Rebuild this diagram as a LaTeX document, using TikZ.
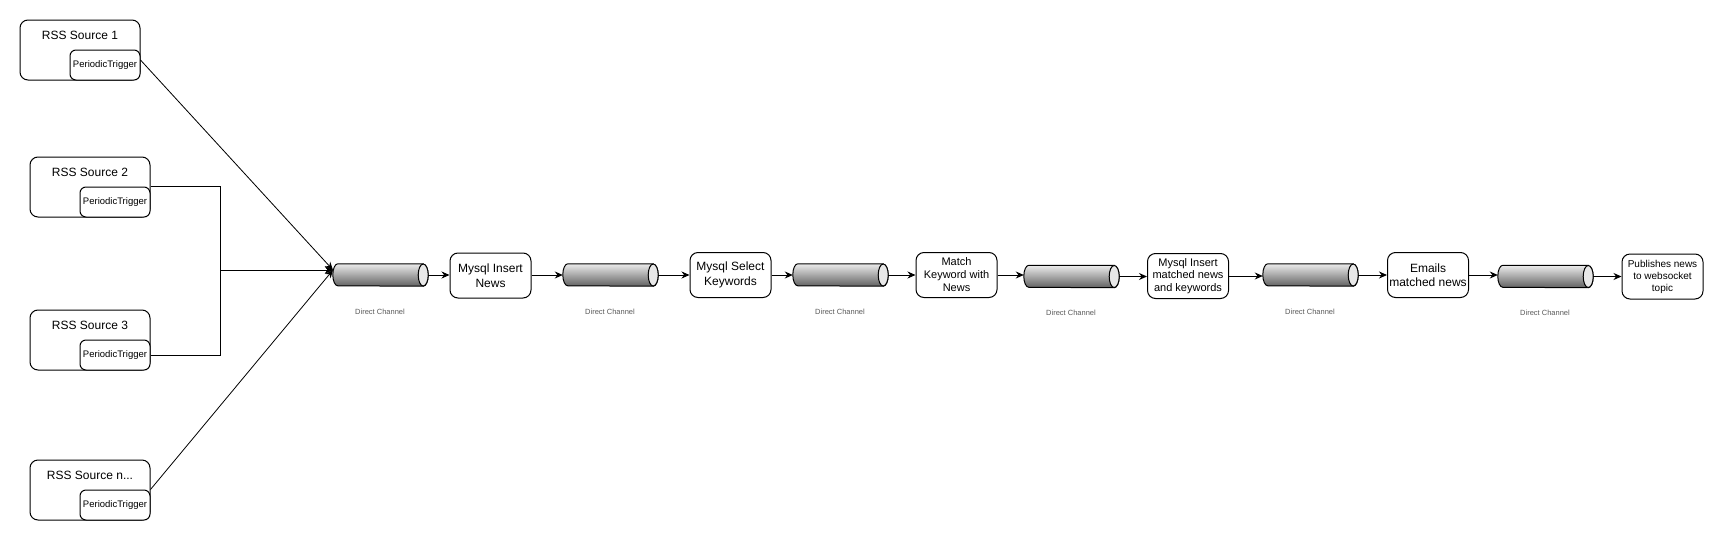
\documentclass[tikz,border=0pt]{standalone}
\usepackage{fontspec}
\setmainfont{Liberation Sans}
\usetikzlibrary{arrows.meta,calc}
\newcommand\drawchan[1]{%
  \shade[top color=gray!15,bottom color=black!62,draw,line width=1pt]
    ($(#1.north east)+(-5,0)$) -- ($(#1.north west)+(5,0)$)
    arc[start angle=90,end angle=270,x radius=5pt,y radius=11pt]
    -- ($(#1.south east)+(-5,0)$)
    arc[start angle=-90,end angle=90,x radius=5pt,y radius=11pt] -- cycle;
  \draw[fill=gray!18,line width=1pt] ($(#1.east)+(-5,0)$) ellipse[x radius=5pt,y radius=11pt];
}
\begin{document}
\begin{tikzpicture}[x=1pt,y=-1pt,
  outer/.style={draw,rounded corners=8pt,minimum width=120pt,minimum height=60pt,inner sep=0pt,line width=1pt},
  trig/.style={draw,fill=white,rounded corners=6pt,minimum width=70pt,minimum height=30pt,inner sep=0pt,line width=1pt,font=\fontsize{9.5}{10}\selectfont},
  title/.style={font=\fontsize{12}{14}\selectfont,inner sep=0pt},
  proc/.style={draw,rounded corners=8pt,minimum width=81pt,minimum height=45pt,inner sep=0pt,align=center,line width=1pt},
  chan/.style={minimum width=95pt,minimum height=22pt,inner sep=0pt},
  lbl/.style={font=\fontsize{7.5}{9}\selectfont,text=black!65,inner sep=0pt},
  arr/.style={-{Stealth[length=8pt,width=7pt]},line width=1pt},
  thin/.style={-{Stealth[length=8pt,width=7pt]},line width=0.8pt},
]
\useasboundingbox (0,0) rectangle (1724,541);

% sources
\node[outer] (s1) at (80,50) {};
\node[title] (s1t) at (80,35) {RSS Source 1};
\node[trig] (t1) at (105,65) {PeriodicTrigger};

\node[outer] (s2) at (90,187) {};
\node[title] (s2t) at (90,172) {RSS Source 2};
\node[trig] (t2) at (115,202) {PeriodicTrigger};

\node[outer] (s3) at (90,340) {};
\node[title] (s3t) at (90,325) {RSS Source 3};
\node[trig] (t3) at (115,355) {PeriodicTrigger};

\node[outer] (s4) at (90,490) {};
\node[title] (s4t) at (90,475) {RSS Source n...};
\node[trig] (t4) at (115,505) {PeriodicTrigger};

% channels
\node[chan] (ch1) at (380.5,275) {};
\node[chan] (ch2) at (610.5,275) {};
\node[chan] (ch3) at (840.5,275) {};
\node[chan] (ch4) at (1071.5,276.5) {};
\node[chan] (ch5) at (1310.5,275) {};
\node[chan] (ch6) at (1545.5,276.5) {};
\drawchan{ch1}\drawchan{ch2}\drawchan{ch3}\drawchan{ch4}\drawchan{ch5}\drawchan{ch6}

\node[lbl] (l1) at (380,312) {Direct Channel};
\node[lbl] (l2) at (610,312) {Direct Channel};
\node[lbl] (l3) at (840,312) {Direct Channel};
\node[lbl] (l4) at (1071,313) {Direct Channel};
\node[lbl] (l5) at (1310,312) {Direct Channel};
\node[lbl] (l6) at (1545,313) {Direct Channel};

% processes
\node[proc,font=\fontsize{12}{14.5}\selectfont] (p1) at (490.5,275.5) {Mysql Insert\\News};
\node[proc,font=\fontsize{12}{14.5}\selectfont] (p2) at (730.5,275) {Mysql Select\\Keywords};
\node[proc,font=\fontsize{11}{13}\selectfont] (p3) at (956.5,275) {Match\\Keyword with\\News};
\node[proc,font=\fontsize{11}{12.5}\selectfont] (p4) at (1188,276) {Mysql Insert\\matched news\\and keywords};
\node[proc,font=\fontsize{12}{14.5}\selectfont] (p5) at (1428,275) {Emails\\matched news};
\node[proc,font=\fontsize{10}{12}\selectfont] (p6) at (1662.5,276.5) {Publishes news\\to websocket\\topic};

% inputs to first channel
\coordinate (in1) at (333,270);
\coordinate (j1) at (220,270);
\draw[thin] ([yshift=5pt]t1.east) -- (in1);
\draw[thin] (t4.north east) -- (in1);
\draw[arr] (t2.north east) -| (j1) -- (in1);
\draw[arr] (t3.east) -| (j1) -- (in1);

% main flow
\draw[arr] (ch1.east) -- (p1.west |- ch1.east);
\draw[arr] (p1.east |- ch2.west) -- (ch2.west);
\draw[arr] (ch2.east) -- (p2.west |- ch2.east);
\draw[arr] (p2.east) -- (ch3.west |- p2.east);
\draw[arr] (ch3.east) -- (p3.west |- ch3.east);
\draw[arr] (p3.east) -- (ch4.west |- p3.east);
\draw[arr] (ch4.east) -- (p4.west |- ch4.east);
\draw[arr] (p4.east) -- (ch5.west |- p4.east);
\draw[arr] (ch5.east) -- (p5.west |- ch5.east);
\draw[arr] (p5.east) -- (ch6.west |- p5.east);
\draw[arr] (ch6.east) -- (p6.west |- ch6.east);
\end{tikzpicture}
\end{document}
